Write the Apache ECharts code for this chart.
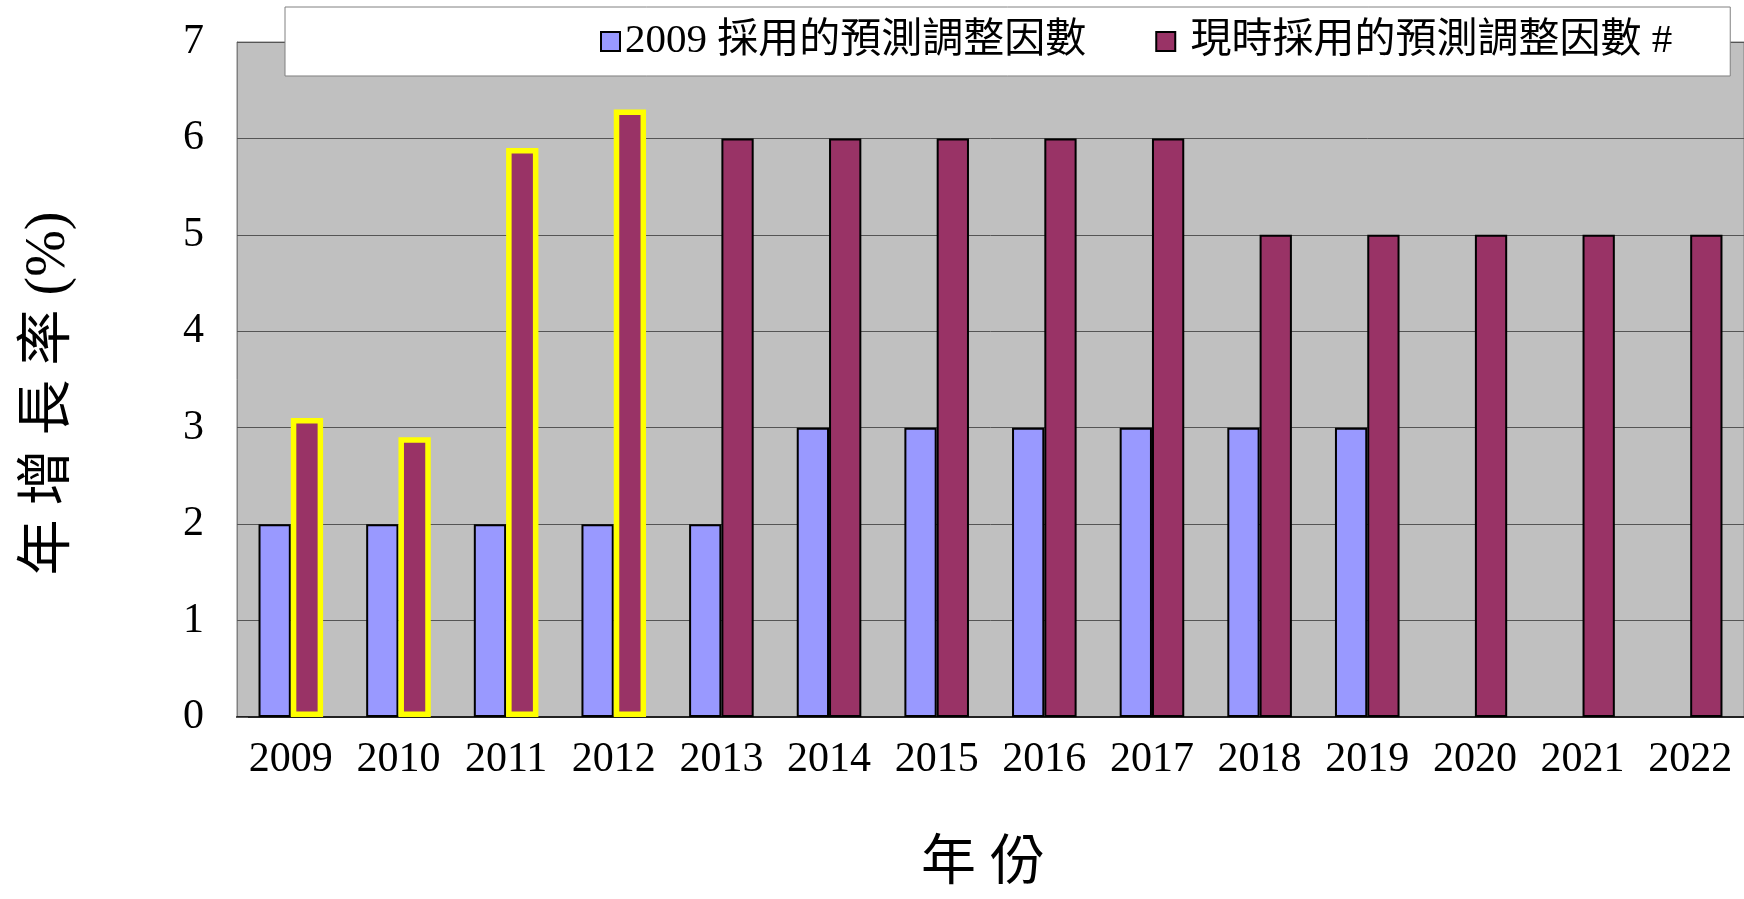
<!DOCTYPE html>
<html>
<head>
<meta charset="utf-8">
<title>年增長率</title>
<script src="https://cdn.jsdelivr.net/npm/echarts@6/dist/echarts.min.js"></script>
<style>
  html, body { margin: 0; padding: 0; background: #fff; }
  #chart { width: 1744px; height: 899px; }
</style>
</head>
<body>
<div id="chart"></div>
<script>
var years = ['2009', '2010', '2011', '2012', '2013', '2014', '2015',
             '2016', '2017', '2018', '2019', '2020', '2021', '2022'];
var seriesNames = ['2009 採用的預測調整因數', ' 現時採用的預測調整因數 #'];
// 2009 adopted factor (no value after 2019)
var factor2009 = [2, 2, 2, 2, 2, 3, 3, 3, 3, 3, 3, null, null, null];
// factor currently adopted
var factorNow = [3.1, 2.9, 5.9, 6.3, 6, 6, 6, 6, 6, 5, 5, 5, 5, 5];
// years whose current-factor bar is boxed in yellow
var outlinedYears = ['2009', '2010', '2011', '2012'];
var yTicks = [0, 1, 2, 3, 4, 5, 6, 7];

var font = "'Liberation Serif', 'Noto Sans CJK TC', serif";

var chart = echarts.init(document.getElementById('chart'));

var nowData = factorNow.map(function (v, i) {
  if (outlinedYears.indexOf(years[i]) >= 0) {
    return { value: v, itemStyle: { borderColor: '#ffff00', borderWidth: 5.5 } };
  }
  return v;
});

var option = {
  animation: false,
  backgroundColor: '#fff',
  grid: {
    left: 237,
    right: 0,
    top: 42,
    bottom: 182,
    show: true,
    backgroundColor: '#c0c0c0',
    borderColor: '#808080',
    borderWidth: 1
  },
  legend: {
    orient: 'horizontal',
    left: 285,
    top: 7,
    width: 1300,
    padding: [14, 58, 14, 315],
    backgroundColor: '#fff',
    borderColor: '#808080',
    borderWidth: 1,
    icon: 'rect',
    itemWidth: 19,
    itemHeight: 19,
    itemGap: 69,
    itemStyle: { borderColor: '#000', borderWidth: 2 },
    textStyle: { fontSize: 41, fontFamily: font, color: '#000' },
    data: seriesNames
  },
  xAxis: {
    type: 'category',
    data: years,
    name: '年 份',
    nameLocation: 'middle',
    nameGap: 120,
    nameTextStyle: { fontSize: 55, fontFamily: font, color: '#000', padding: [0, 15, 0, 0] },
    axisLine: { lineStyle: { color: '#222', width: 2 } },
    axisTick: { inside: true, length: 11, lineStyle: { color: '#808080' } },
    axisLabel: { interval: 0, fontSize: 42, fontFamily: font, color: '#000', margin: 22 }
  },
  yAxis: {
    type: 'value',
    min: yTicks[0],
    max: yTicks[yTicks.length - 1],
    interval: 1,
    name: '年 增 長 率 (%)',
    nameLocation: 'middle',
    nameRotate: 90,
    nameGap: 160,
    nameTextStyle: { fontSize: 56, fontFamily: font, color: '#000', padding: [0, 28, 0, 0] },
    axisLine: { show: true, lineStyle: { color: '#808080' } },
    axisTick: { show: true, inside: true, length: 11, lineStyle: { color: '#555' } },
    splitLine: { lineStyle: { color: '#555', width: 1 } },
    axisLabel: { fontSize: 42, fontFamily: font, color: '#000', margin: 33 }
  },
  series: [
    {
      name: seriesNames[0],
      type: 'bar',
      data: factor2009,
      barGap: '0%',
      barCategoryGap: '40%',
      itemStyle: { color: '#9999ff', borderColor: '#000', borderWidth: 2 }
    },
    {
      name: seriesNames[1],
      type: 'bar',
      data: nowData,
      barGap: '0%',
      barCategoryGap: '40%',
      itemStyle: { color: '#993366', borderColor: '#000', borderWidth: 2 }
    }
  ]
};

chart.setOption(option);
</script>
</body>
</html>
